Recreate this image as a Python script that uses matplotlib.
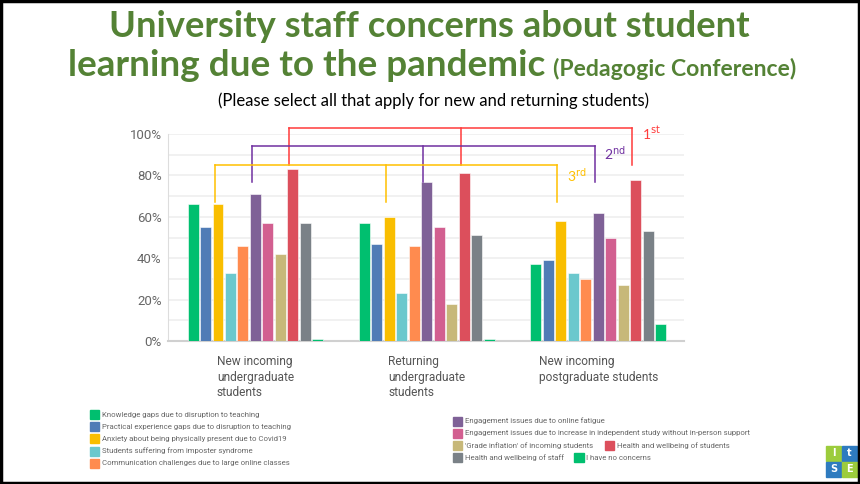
import matplotlib
matplotlib.use('Agg')
import matplotlib.pyplot as plt
from matplotlib.patches import Rectangle
import numpy as np

# Grupos y series (porcentajes)
grupos = ["New incoming\nundergraduate\nstudents",
          "Returning\nundergraduate\nstudents",
          "New incoming\npostgraduate students"]

series = [
    "Knowledge gaps due to disruption to teaching",
    "Practical experience gaps due to disruption to teaching",
    "Anxiety about being physically present due to Covid19",
    "Students suffering from imposter syndrome",
    "Communication challenges due to large online classes",
    "Engagement issues due to online fatigue",
    "Engagement issues due to increase in independent study without in-person support",
    "'Grade inflation' of incoming students",
    "Health and wellbeing of students",
    "Health and wellbeing of staff",
    "I have no concerns",
]

colores = ["#00bf6f", "#507cb6", "#f9be00", "#6bc8cd", "#ff8b4f", "#7f6197",
           "#d25f90", "#c7b879", "#dc4f5c", "#7a8187", "#00bf6f"]

valores = [
    [66, 57, 37],    # knowledge gaps
    [55, 47, 39],    # practical experience
    [66, 60, 58],    # anxiety
    [33, 23, 33],    # imposter
    [46, 46, 30],    # communication
    [71, 77, 62],    # online fatigue
    [57, 55, 50],    # independent study
    [42, 18, 27],    # grade inflation
    [83, 81, 78],    # wellbeing students
    [57, 51, 53],    # wellbeing staff
    [1, 1, 8],       # no concerns
]

W, H = 860, 484
fig = plt.figure(figsize=(W / 100, H / 100), dpi=100)
fig.patch.set_facecolor('white')

def fx(x):
    return x / W

def fy(y):
    return 1 - y / H

ax = fig.add_axes([fx(168), fy(341), (684 - 168) / W, 207 / H])

paso = 12.5 / 171.75
ancho = 11 / 171.75
xg = np.arange(len(grupos))
posiciones = []
for i, (vals, col) in enumerate(zip(valores, colores)):
    xs = xg + (i - 5) * paso
    posiciones.append(xs)
    ax.bar(xs, vals, width=ancho, color=col, edgecolor='white', linewidth=0.4, zorder=3)

ax.set_xlim(-0.51, 2.50)
ax.set_ylim(0, 100)
ax.set_yticks([0, 20, 40, 60, 80, 100])
ax.set_yticks(np.arange(10, 100, 20), minor=True)
ax.yaxis.grid(True, which='both', color='#efefef', linewidth=1.2, zorder=0)
ax.set_yticklabels(['0%', '20%', '40%', '60%', '80%', '100%'])
ax.tick_params(axis='y', length=0, pad=4.5, labelsize=9.5, labelcolor='#666666')
ax.tick_params(axis='y', which='minor', length=0)
ax.set_xticks([])
for s in ['top', 'right']:
    ax.spines[s].set_visible(False)
ax.spines['left'].set_color('#dddddd')
ax.spines['bottom'].set_color('#d0d0d0')
ax.spines['bottom'].set_linewidth(1.5)
for lab in ax.get_yticklabels():
    lab.set_fontfamily('Roboto')

for x, g in zip(xg, grupos):
    ax.text(x, -7, g, ha='center', va='top', multialignment='left',
            fontsize=8.6, color='#555555', family='Roboto', linespacing=1.25)

# Corchetes de ranking (1st, 2nd, 3rd)
corchetes = [(8, 102.9, 85.0, '#ff3b3b', '1', 'st', 100.5),
             (5, 94.2, 76.6, '#7030a0', '2', 'nd', 90.8),
             (2, 85.0, 67.0, '#ffc000', '3', 'rd', 80.2)]
for idx, ytop, ybot, col, num, suf, ylab in corchetes:
    xs = posiciones[idx] - 0.02
    ax.plot([xs[0], xs[-1]], [ytop, ytop], color=col, lw=1.1, clip_on=False, zorder=4)
    for xv in xs:
        ax.plot([xv, xv], [ytop, ybot], color=col, lw=1.1, clip_on=False, zorder=4)
    ax.text(xs[-1] + 0.055, ylab, num + r'$^{\mathrm{' + suf + '}}$', color=col,
            fontsize=10, family='Lato', va='center', ha='left', clip_on=False)

# Leyenda manual
fila_izq = [414.7, 426.7, 438.7, 451, 463]
for i in range(5):
    y = fila_izq[i]
    fig.add_artist(Rectangle((fx(90), fy(y + 4.5)), 9 / W, 9 / H, color=colores[i],
                             transform=fig.transFigure))
    fig.text(fx(102.5), fy(y), series[i], fontsize=5.6, color='#666666',
             family='Roboto', va='center', ha='left')

pos_der = [(452.5, 421), (452.5, 433.3), (452.5, 445.3), (604.5, 445.3),
           (452.5, 457.7), (574, 457.7)]
for k, (x, y) in enumerate(pos_der):
    i = k + 5
    fig.add_artist(Rectangle((fx(x), fy(y + 4.5)), 9.5 / W, 9 / H, color=colores[i],
                             transform=fig.transFigure))
    fig.text(fx(x + 12.5), fy(y), series[i], fontsize=5.6, color='#666666',
             family='Roboto', va='center', ha='left')

# Títulos
verde = '#548235'
fig.text(fx(429.5), fy(37), 'University staff concerns about student', ha='center',
         va='baseline', fontsize=26.2, fontweight='bold', color=verde, family='Lato')
fig.text(fx(545), fy(76), 'learning due to the pandemic', ha='right',
         va='baseline', fontsize=26.6, fontweight='bold', color=verde, family='Lato')
fig.text(fx(553), fy(76), '(Pedagogic Conference)', ha='left',
         va='baseline', fontsize=16.6, fontweight='bold', color=verde, family='Lato')
fig.text(fx(434), fy(101), '(Please select all that apply for new and returning students)',
         ha='center', va='center', fontsize=12, color='black', family='Lato')

# Logo esquina inferior derecha
logo_cols = ['#9ccc3c', '#2e7bbf', '#2e7bbf', '#9ccc3c']
letras = ['l', 't', 'S', 'E']
for j, (dx, dy) in enumerate([(0, 0), (1, 0), (0, 1), (1, 1)]):
    fig.add_artist(Rectangle((fx(826 + dx * 16), fy(446 + dy * 16 + 15)), 15 / W, 15 / H,
                             color=logo_cols[j], transform=fig.transFigure))
    fig.text(fx(833.5 + dx * 16), fy(453.5 + dy * 16), letras[j], fontsize=7,
             color='white', ha='center', va='center', fontweight='bold')

# Marco de la diapositiva
fig.add_artist(Rectangle((0.0015, 0.003), 0.997, 0.994, fill=False, edgecolor='black',
                         linewidth=2.5, transform=fig.transFigure))

fig.savefig('out.png', dpi=100)
